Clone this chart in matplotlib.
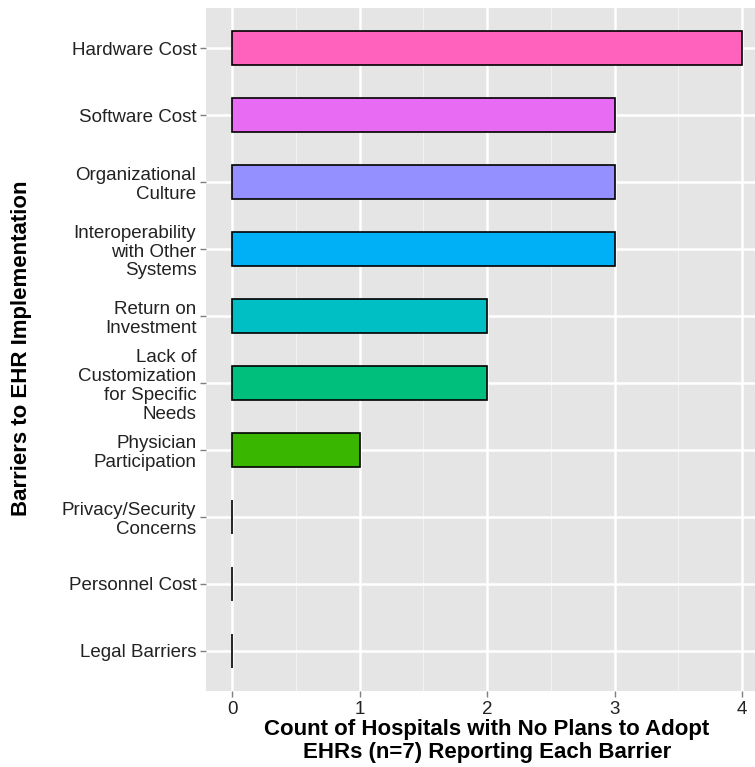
import matplotlib
matplotlib.use("Agg")
import matplotlib.pyplot as plt
from matplotlib.ticker import MultipleLocator

plt.rcParams['font.family'] = ['Liberation Sans', 'DejaVu Sans']

# Data, bottom to top
barriers = [
    "Legal Barriers",
    "Personnel Cost",
    "Privacy/Security\nConcerns",
    "Physician\nParticipation",
    "Lack of\nCustomization\nfor Specific\nNeeds",
    "Return on\nInvestment",
    "Interoperability\nwith Other\nSystems",
    "Organizational\nCulture",
    "Software Cost",
    "Hardware Cost",
]
counts = [0, 0, 0, 1, 2, 2, 3, 3, 3, 4]
colors = ["#F8766D", "#D89000", "#A3A500", "#39B600", "#00BF7D",
          "#00BFC4", "#00B0F6", "#9590FF", "#E76BF3", "#FF62BC"]

fig = plt.figure(figsize=(7.55, 7.67), dpi=100)
ax = fig.add_axes([206 / 755, 76 / 767, 549 / 755, 683 / 767])
ax.set_facecolor("#E5E5E5")

positions = list(range(1, len(barriers) + 1))
ax.barh(positions, counts, height=0.5, color=colors, edgecolor="black",
        linewidth=1.2, zorder=3)

ax.set_xlim(-0.204, 4.1)
ax.set_ylim(0.4, len(barriers) + 0.6)
ax.set_yticks(positions)
ax.set_yticklabels(barriers, ha="right", multialignment="right")
ax.set_xticks([0, 1, 2, 3, 4])
ax.xaxis.set_minor_locator(MultipleLocator(0.5))

ax.grid(which="major", color="white", linewidth=1.8, zorder=0)
ax.grid(which="minor", axis="x", color="#F2F2F2", linewidth=0.8, zorder=0)
ax.set_axisbelow(True)
for s in ax.spines.values():
    s.set_visible(False)

ax.tick_params(axis="both", which="major", length=4, width=1, color="#7F7F7F",
               labelsize=13.5, labelcolor="#222222", pad=3)
ax.tick_params(axis="both", which="minor", length=0)
for lbl in ax.get_yticklabels():
    lbl.set_linespacing(1.15)

# axis titles placed in figure pixels
fig.text(487 / 755, 1 - 741 / 767,
         "Count of Hospitals with No Plans to Adopt\nEHRs (n=7) Reporting Each Barrier",
         fontsize=16, fontweight="bold", ha="center", va="center",
         linespacing=1.08)
fig.text(22 / 755, 1 - 348 / 767, "Barriers to EHR Implementation",
         fontsize=16, fontweight="bold", rotation=90, ha="center", va="center")

fig.savefig("out.png", dpi=100)
